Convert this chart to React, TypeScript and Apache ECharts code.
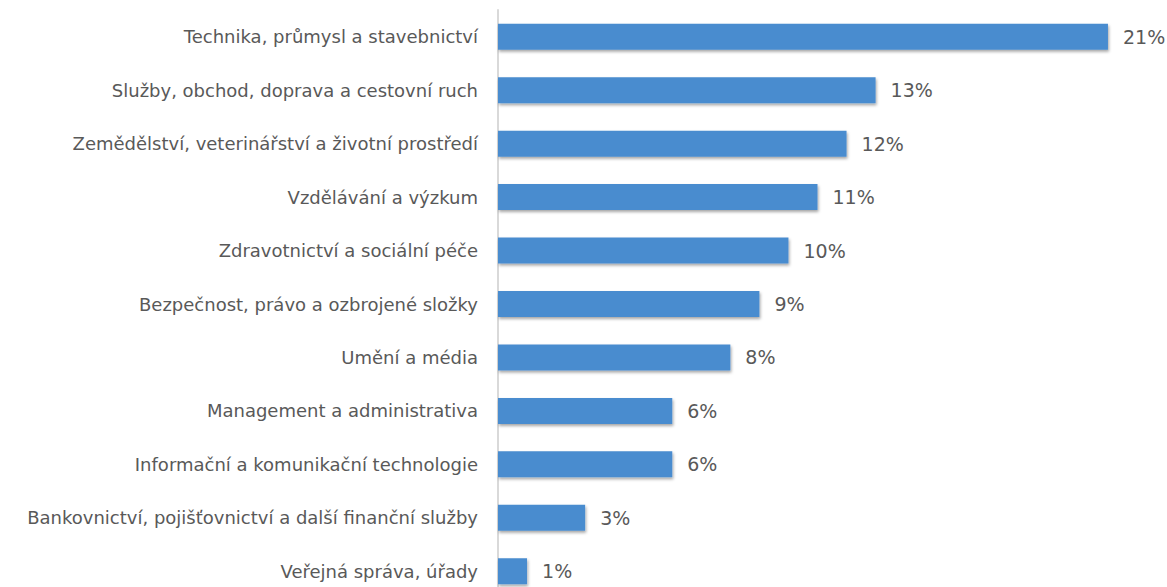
import React, { useEffect, useRef } from "react";
import * as echarts from "echarts";

const categories = [
  "Technika, průmysl a stavebnictví",
  "Služby, obchod, doprava a cestovní ruch",
  "Zemědělství, veterinářství a životní prostředí",
  "Vzdělávání a výzkum",
  "Zdravotnictví a sociální péče",
  "Bezpečnost, právo a ozbrojené složky",
  "Umění a média",
  "Management a administrativa",
  "Informační a komunikační technologie",
  "Bankovnictví, pojišťovnictví a další finanční služby",
  "Veřejná správa, úřady",
];

const values = [21, 13, 12, 11, 10, 9, 8, 6, 6, 3, 1];

export default function App() {
  const ref = useRef<HTMLDivElement>(null);
  useEffect(() => {
    if (!ref.current) return;
    const chart = echarts.init(ref.current, undefined, { renderer: "svg" });
    chart.setOption({
      animation: false,
      backgroundColor: "#ffffff",
      grid: { left: 498, right: 30, top: 10, bottom: 0 },
      xAxis: {
        type: "value",
        min: 0,
        max: 22,
        show: false,
      },
      yAxis: {
        type: "category",
        inverse: true,
        data: categories,
        axisLine: { show: true, lineStyle: { color: "#d9d9d9", width: 2 } },
        axisTick: { show: false },
        axisLabel: {
          color: "#595959",
          fontSize: 18,
          fontFamily: "DejaVu Sans",
          margin: 20,
        },
      },
      series: [
        {
          type: "bar",
          data: values,
          barWidth: 26,
          itemStyle: {
            color: "#4a8ccf",
            shadowColor: "rgba(0,0,0,0.35)",
            shadowBlur: 3,
            shadowOffsetX: 1,
            shadowOffsetY: 2,
          },
          label: {
            show: true,
            position: "right",
            distance: 15,
            color: "#595959",
            fontSize: 19,
            fontFamily: "DejaVu Sans",
            formatter: (p: any) => `${p.value}%`,
          },
        },
      ],
    });
    return () => chart.dispose();
  }, []);
  return (
    <div
      ref={ref}
      style={{ position: "fixed", left: 0, top: 0, width: 1167, height: 598 }}
    />
  );
}
